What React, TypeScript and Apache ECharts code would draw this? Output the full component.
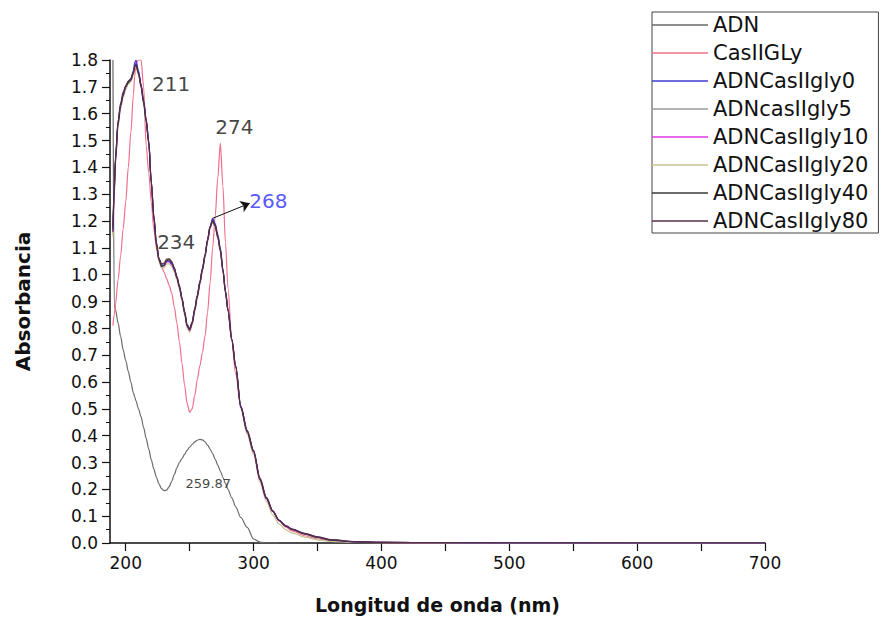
import { useEffect, useRef } from "react";
import * as echarts from "echarts";

// Shared wavelength grid (nm) for every spectrum
const wavelength = [
  190, 191, 192, 194, 196, 198, 200, 202, 204, 206, 207, 208,
  210, 212, 214, 216, 218, 220, 222, 224, 226, 228, 230, 232, 234, 236, 238, 240,
  242, 244, 246, 248, 250, 252, 254, 256, 258, 260, 262, 264, 266, 268, 270, 272,
  274, 276, 278, 280,
  283, 286, 290, 295, 300, 305, 310, 315, 320, 325, 330, 340, 350, 360, 380, 400,
  450, 500, 600, 700,
];

const adn = [
  1.8, 0.89, 0.87, 0.82, 0.77, 0.72, 0.68, 0.64, 0.6, 0.56, 0.545, 0.53,
  0.5, 0.47, 0.43, 0.39, 0.35, 0.31, 0.275, 0.245, 0.22, 0.203, 0.195, 0.197, 0.21, 0.23, 0.255, 0.28,
  0.3, 0.315, 0.33, 0.345, 0.357, 0.368, 0.377, 0.383, 0.386, 0.384, 0.377, 0.365, 0.35, 0.333, 0.312, 0.29,
  0.268, 0.245, 0.222, 0.2,
  0.168, 0.135, 0.095, 0.058, 0.015, 0.003, 0, 0, 0, null, null, null, null, null, null, null,
  null, null, null, null,
];

const casIIGLy = [
  0.81, 0.85, 0.89, 0.98, 1.07, 1.17, 1.27, 1.4, 1.53, 1.67, 1.74, 1.79,
  1.8, 1.8, 1.7, 1.48, 1.38, 1.27, 1.17, 1.1, 1.05, 1.03, 1.01, 0.985, 0.96, 0.93, 0.88, 0.82,
  0.75, 0.67, 0.59, 0.52, 0.487, 0.5, 0.55, 0.61, 0.66, 0.71, 0.77, 0.86, 0.97, 1.1, 1.22, 1.36,
  1.49, 1.33, 1.12, 0.95,
  0.75, 0.63, 0.51, 0.41, 0.335, 0.245, 0.17, 0.12, 0.083, 0.06, 0.045, 0.027, 0.015, 0.008, 0.003, 0.001,
  0, 0, 0, 0,
];

const adnCas0 = [
  1.17, 1.32, 1.43, 1.57, 1.63, 1.67, 1.7, 1.72, 1.73, 1.76, 1.79, 1.8,
  1.76, 1.71, 1.65, 1.58, 1.5, 1.35, 1.22, 1.12, 1.06, 1.035, 1.035, 1.05, 1.05, 1.04, 1.02, 0.99,
  0.955, 0.91, 0.86, 0.81, 0.795, 0.82, 0.87, 0.92, 0.97, 1.02, 1.07, 1.13, 1.18, 1.21, 1.19, 1.15,
  1.1, 1.02, 0.94, 0.87,
  0.76, 0.66, 0.51, 0.42, 0.345, 0.24, 0.17, 0.12, 0.085, 0.065, 0.052, 0.035, 0.022, 0.012, 0.004, 0.002,
  0.001, 0, 0, 0,
];

const adnCas5 = [
  1.15, 1.3, 1.42, 1.56, 1.62, 1.67, 1.7, 1.72, 1.72, 1.75, 1.77, 1.78,
  1.75, 1.7, 1.64, 1.57, 1.49, 1.34, 1.21, 1.12, 1.06, 1.04, 1.045, 1.06, 1.06, 1.05, 1.025, 0.995,
  0.96, 0.915, 0.865, 0.815, 0.8, 0.825, 0.875, 0.925, 0.975, 1.025, 1.075, 1.13, 1.18, 1.205, 1.185, 1.145,
  1.095, 1.02, 0.94, 0.87,
  0.76, 0.66, 0.51, 0.42, 0.343, 0.238, 0.168, 0.118, 0.083, 0.063, 0.05, 0.033, 0.02, 0.011, 0.004, 0.002,
  0.001, 0, 0, 0,
];

const adnCas10 = [
  1.16, 1.31, 1.42, 1.57, 1.63, 1.67, 1.7, 1.72, 1.73, 1.755, 1.78, 1.79,
  1.755, 1.705, 1.645, 1.575, 1.495, 1.345, 1.215, 1.115, 1.058, 1.033, 1.033, 1.048, 1.048, 1.038, 1.018, 0.988,
  0.953, 0.908, 0.858, 0.808, 0.792, 0.818, 0.868, 0.918, 0.968, 1.018, 1.068, 1.125, 1.175, 1.2, 1.18, 1.14,
  1.09, 1.015, 0.935, 0.865,
  0.755, 0.655, 0.505, 0.415, 0.34, 0.235, 0.165, 0.117, 0.082, 0.063, 0.05, 0.034, 0.021, 0.011, 0.004, 0.002,
  0.001, 0, 0, 0,
];

const adnCas20 = [
  1.14, 1.29, 1.41, 1.55, 1.62, 1.66, 1.69, 1.71, 1.72, 1.745, 1.77, 1.78,
  1.745, 1.695, 1.635, 1.565, 1.485, 1.335, 1.205, 1.105, 1.05, 1.025, 1.025, 1.04, 1.04, 1.03, 1.01, 0.98,
  0.945, 0.9, 0.85, 0.8, 0.785, 0.81, 0.86, 0.91, 0.96, 1.01, 1.06, 1.12, 1.17, 1.195, 1.175, 1.135,
  1.085, 1.01, 0.93, 0.86,
  0.75, 0.65, 0.5, 0.405, 0.33, 0.225, 0.155, 0.105, 0.07, 0.05, 0.038, 0.022, 0.012, 0.006, 0.002, 0.001,
  0, 0, 0, 0,
];

const adnCas40 = [
  1.16, 1.31, 1.43, 1.56, 1.63, 1.67, 1.7, 1.715, 1.725, 1.75, 1.775, 1.785,
  1.75, 1.7, 1.64, 1.57, 1.49, 1.34, 1.21, 1.11, 1.055, 1.03, 1.035, 1.052, 1.055, 1.045, 1.022, 0.99,
  0.955, 0.91, 0.86, 0.81, 0.795, 0.82, 0.87, 0.92, 0.97, 1.02, 1.07, 1.128, 1.178, 1.203, 1.183, 1.143,
  1.093, 1.018, 0.938, 0.868,
  0.758, 0.658, 0.508, 0.418, 0.343, 0.238, 0.168, 0.119, 0.084, 0.064, 0.051, 0.034, 0.021, 0.011, 0.004, 0.002,
  0.001, 0, 0, 0,
];

const adnCas80 = [
  1.18, 1.33, 1.44, 1.57, 1.64, 1.68, 1.705, 1.72, 1.73, 1.755, 1.775, 1.78,
  1.75, 1.705, 1.645, 1.575, 1.495, 1.345, 1.215, 1.115, 1.06, 1.04, 1.04, 1.055, 1.058, 1.048, 1.025, 0.993,
  0.958, 0.913, 0.863, 0.813, 0.798, 0.823, 0.873, 0.923, 0.973, 1.023, 1.073, 1.13, 1.18, 1.2, 1.18, 1.14,
  1.09, 1.015, 0.935, 0.865,
  0.755, 0.655, 0.505, 0.415, 0.34, 0.236, 0.166, 0.118, 0.084, 0.065, 0.052, 0.036, 0.023, 0.013, 0.005, 0.002,
  0.001, 0.001, 0, 0,
];

const seriesNames = [
  "ADN",
  "CasIIGLy",
  "ADNCasIIgly0",
  "ADNcasIIgly5",
  "ADNCasIIgly10",
  "ADNCasIIgly20",
  "ADNCasIIgly40",
  "ADNCasIIgly80",
];
const seriesValues = [adn, casIIGLy, adnCas0, adnCas5, adnCas10, adnCas20, adnCas40, adnCas80];
const seriesColors = ["#6a6a6a", "#f0708a", "#3c3cd2", "#9a9a9a", "#e236e2", "#c8c490", "#3a3a3a", "#5a2c48"];
const seriesZ = [2, 3, 6, 4, 5, 4, 7, 8];

const xTickValues = [200, 250, 300, 350, 400, 450, 500, 550, 600, 650, 700];
const xLabelValues = [200, 300, 400, 500, 600, 700];

// Peak annotations: text and anchor in data units
const peakNotes = [
  { text: "211", x: 235.5, y: 1.71 },
  { text: "274", x: 285, y: 1.55 },
  { text: "234", x: 239.5, y: 1.12 },
  { text: "259.87", x: 264.6, y: 0.221 },
  { text: "268", x: 311.5, y: 1.274 },
];
const arrowPeakNm = 268;
const arrowTip = [297, 1.266];

const FONT = "DejaVu Sans";

export default function App() {
  const ref = useRef<HTMLDivElement>(null);

  useEffect(() => {
    if (!ref.current) return;
    const chart = echarts.init(ref.current, null, { renderer: "svg" });

    const peakIdx = wavelength.indexOf(arrowPeakNm);

    const lineSeries = seriesNames.map((name, i) => {
      const s: any = {
        name,
        type: "line",
        data: wavelength.map((w, k) => [w, seriesValues[i][k]]),
        symbol: "none",
        showSymbol: false,
        smooth: 0.3,
        smoothMonotone: "x",
        connectNulls: false,
        z: seriesZ[i],
        lineStyle: { color: seriesColors[i], width: 1.2 },
        itemStyle: { color: seriesColors[i] },
      };
      if (name === "ADNCasIIgly0") {
        s.markLine = {
          silent: true,
          symbol: ["none", "arrow"],
          symbolSize: 9,
          label: { show: false },
          lineStyle: { color: "#111", width: 1, type: "solid" },
          data: [[{ coord: [arrowPeakNm, adnCas0[peakIdx]] }, { coord: arrowTip }]],
        };
      }
      return s;
    });

    const noteSeries = {
      name: "notes",
      type: "scatter",
      z: 10,
      silent: true,
      symbolSize: 1,
      itemStyle: { color: "rgba(0,0,0,0)" },
      data: peakNotes.map((p) => ({
        value: [p.x, p.y],
        name: p.text,
        label: {
          show: true,
          position: "inside",
          formatter: p.text,
          fontFamily: FONT,
          fontSize: p.text === "259.87" ? 13 : 20,
          color: p.text === "268" ? "#2b2bff" : "#111",
        },
      })),
    };

    chart.setOption({
      animation: false,
      backgroundColor: "#ffffff",
      textStyle: { fontFamily: FONT },
      grid: { left: 110, right: 117, top: 60, bottom: 81, outerBoundsMode: "none" },
      legend: {
        data: seriesNames.map((name) => ({ name, icon: "rect" })),
        orient: "vertical",
        left: 652,
        top: 12,
        itemWidth: 56,
        itemHeight: 1.5,
        itemGap: 6,
        padding: [2, 10, 1, 0],
        borderColor: "#444",
        borderWidth: 1,
        selectedMode: false,
        textStyle: { fontFamily: FONT, fontSize: 21, lineHeight: 22, color: "#111" },
      },
      xAxis: {
        type: "value",
        min: 187.7,
        max: 700,
        name: "Longitud de onda (nm)",
        nameLocation: "middle",
        nameGap: 52,
        nameTextStyle: { fontFamily: FONT, fontSize: 19, fontWeight: "bold", color: "#111" },
        axisLine: { show: true, onZero: false, lineStyle: { color: "#111", width: 1.5 } },
        axisTick: { show: true, inside: false, length: 8, customValues: xTickValues, lineStyle: { color: "#111", width: 1.2 } },
        axisLabel: { customValues: xLabelValues, fontFamily: FONT, fontSize: 17, color: "#111", margin: 11 },
        splitLine: { show: false },
      },
      yAxis: {
        type: "value",
        min: 0,
        max: 1.8,
        interval: 0.1,
        name: "Absorbancia",
        nameLocation: "middle",
        nameGap: 77,
        nameTextStyle: { fontFamily: FONT, fontSize: 20, fontWeight: "bold", color: "#111" },
        axisLine: { show: true, onZero: false, lineStyle: { color: "#111", width: 1.5 } },
        axisTick: { show: true, inside: false, length: 8, lineStyle: { color: "#111", width: 1.2 } },
        minorTick: { show: true, splitNumber: 2, length: 4, lineStyle: { color: "#111", width: 1 } },
        axisLabel: {
          fontFamily: FONT,
          fontSize: 17,
          color: "#111",
          margin: 12,
          formatter: (v: number) => v.toFixed(1),
        },
        splitLine: { show: false },
        minorSplitLine: { show: false },
      },
      series: [...lineSeries, noteSeries],
    });

    return () => chart.dispose();
  }, []);

  return (
    <div
      ref={ref}
      style={{ position: "absolute", left: 0, top: 0, width: 882, height: 624 }}
    />
  );
}
